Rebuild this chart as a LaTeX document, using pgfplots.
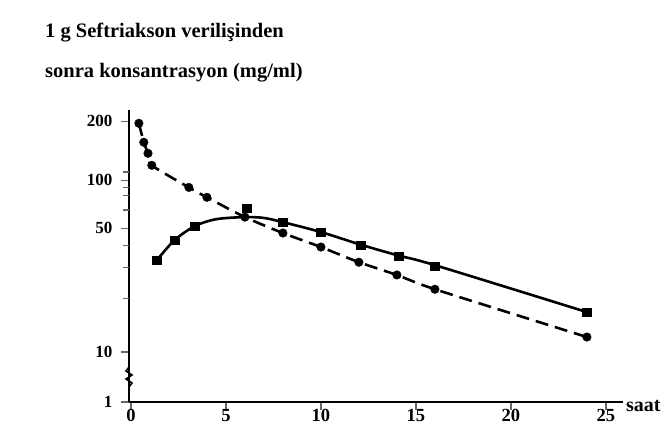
\documentclass[border=0pt]{standalone}
\usepackage{pgfplots}
\pgfplotsset{compat=1.18}
\usepackage{fontspec}
\setmainfont{Liberation Serif}

\pgfplotstableread{
x y
0.42 195
0.68 156
0.9 137
1.1 119
3.05 90
4.0 78
6.0 58.6
8 46.9
10 39.1
12 32.1
14 27.2
16 22.6
24 12.15
}\ivdata

\pgfplotstableread{
x y
1.37 33.0
2.3 42.8
3.37 51.5
6.1 66.7
8 54.5
10 47.5
12.1 40.1
14.1 34.8
16 30.5
24 16.8
}\immarks

\pgfplotstableread{
x y
1.37 33.0
2.3 42.8
3.37 51.5
4.5 56.9
6 58.6
7 57.9
8 54.5
10 47.5
12 40.6
14 35.2
16 30.9
24 16.8
}\imline

\begin{document}
\begin{tikzpicture}
\path[use as bounding box] (0pt,0pt) rectangle (668pt,433pt);
\node[anchor=base west, inner sep=0pt, font=\bfseries\fontsize{20.5}{22}\selectfont] at (45pt,395pt) {1 g Seftriakson verilişinden};
\node[anchor=base west, inner sep=0pt, font=\bfseries\fontsize{20.5}{22}\selectfont] at (45pt,355pt) {sonra konsantrasyon (mg/ml)};
\begin{axis}[
  at={(129pt,31pt)}, anchor=south west,
  scale only axis, width=494pt, height=292pt,
  xmin=-0.1, xmax=25.9,
  ymin=1, ymax=228,
  y coord trafo/.code={\pgfmathparse{50*min(ln(#1)/2.302585,1) + 177.4*max(min(ln(#1)/2.302585,1.699)-1,0) + 159.5*max(min(ln(#1)/2.302585,2)-1.699,0) + 196*max(ln(#1)/2.302585-2,0)}},
  axis x line=bottom, axis y line=left,
  axis line style={line width=2.4pt, -},
  tick align=outside,
  major tick length=8pt,
  tick style={line width=1.2pt, black!60},
  xtick={0,5,10,15,20,25},
  xticklabels={0,5,10,15,20,25},
  x tick label style={font=\bfseries\fontsize{18.5}{18.5}\selectfont, yshift=4pt},
  ytick={1,10,50,100,200},
  yticklabels={1,10,50,100,200},
  y tick label style={font=\bfseries\fontsize{17}{17}\selectfont, xshift=-5pt},
  extra y ticks={20,30,40,65,80,90,110},
  extra y tick labels={},
  extra y tick style={major tick length=6pt},
  clip=false,
]
\addplot[line width=2.6pt, dash pattern=on 13pt off 7pt, smooth, tension=0.4] table {\ivdata};
\addplot[only marks, mark=*, mark size=4.3pt, black] table {\ivdata};
\addplot[line width=2.6pt, smooth, tension=0.5] table {\imline};
\addplot[only marks, mark=square*, mark size=4.3pt, black] table {\immarks};
\end{axis}
\draw[line width=1.6pt] (129pt,46pt) -- (132pt,50pt) -- (126pt,54pt) -- (132pt,58pt) -- (126pt,62pt) -- (129pt,66pt);
\node[anchor=base west, inner sep=0pt, font=\bfseries\fontsize{20}{20}\selectfont] at (626pt,22pt) {saat};
\end{tikzpicture}
\end{document}
